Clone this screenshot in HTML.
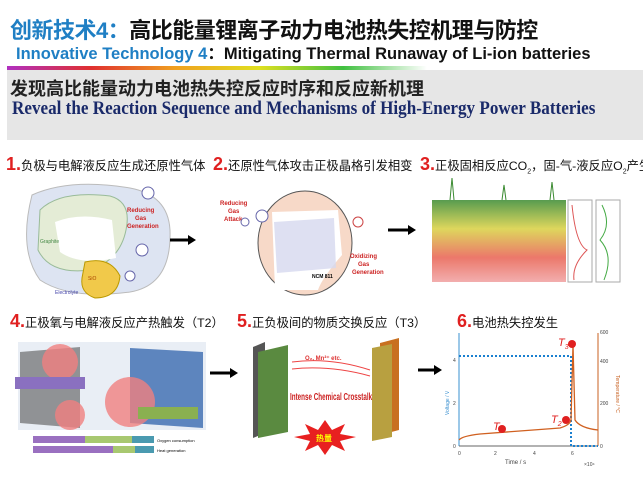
<!DOCTYPE html>
<html><head><meta charset="utf-8"><style>
body{margin:0;width:643px;height:491px;background:#fff;position:relative;overflow:hidden;font-family:"Liberation Sans","Noto Sans CJK SC",sans-serif}
.a{position:absolute;white-space:nowrap}
.h{font-size:12.3px;color:#111}
.h b{color:#e02020;font-size:18px;font-weight:bold}
</style></head><body>
<div class="a" style="left:10px;top:13px;font-size:22px;font-weight:bold;color:#111;letter-spacing:-0.5px"><span style="color:#1f7fc4">创新技术4：</span>高比能量锂离子动力电池热失控机理与防控</div>
<div class="a" style="left:16px;top:40px;font-size:16.5px;font-weight:bold;color:#111"><span style="color:#1f7fc4">Innovative Technology 4</span>：Mitigating Thermal Runaway of Li-ion batteries</div>
<div class="a" style="left:7px;top:66px;width:420px;height:4px;background:linear-gradient(90deg,#b030c0,#e03030,#f0a020,#e0e020,#40c040,#fff)"></div>
<div class="a" style="left:7px;top:70px;width:636px;height:70px;background:#e6e6e6"></div>
<div class="a" style="left:10px;top:75px;font-size:18px;font-weight:bold;color:#222">发现高比能量动力电池热失控反应时序和反应新机理</div>
<div class="a" style="left:12px;top:98px;font-size:19px;font-weight:bold;color:#1a2a6a;font-family:'Liberation Serif',serif;transform:scaleX(0.9);transform-origin:0 0">Reveal the Reaction Sequence and Mechanisms of High-Energy Power Batteries</div>

<div class="a h" style="left:6px;top:154px"><b>1.</b>负极与电解液反应生成还原性气体</div>
<div class="a h" style="left:213px;top:154px"><b>2.</b>还原性气体攻击正极晶格引发相变</div>
<div class="a h" style="left:420px;top:154px"><b>3.</b>正极固相反应CO<sub style="font-size:7px">2</sub>，固-气-液反应O<sub style="font-size:7px">2</sub>产生</div>
<div class="a h" style="left:10px;top:311px"><b>4.</b>正极氧与电解液反应产热触发（T2）</div>
<div class="a h" style="left:237px;top:311px"><b>5.</b>正负极间的物质交换反应（T3）</div>
<div class="a h" style="left:457px;top:311px"><b>6.</b>电池热失控发生</div>

<svg class="a" style="left:0;top:0" width="643" height="491" font-family="Liberation Sans,sans-serif">
<!-- panel 1 -->
<path d="M32 195 Q70 178 130 188 Q168 195 170 230 Q172 285 130 292 Q70 300 40 280 Q18 250 32 195Z" fill="#dde4f2" stroke="#bbb"/>
<path d="M40 210 Q60 190 110 196 Q132 202 126 230 Q120 260 90 270 Q50 275 38 250Z" fill="#e4ecd6" stroke="#9b9"/>
<path d="M55 222 Q80 212 112 220 L116 258 Q80 266 60 252Z" fill="#fff"/>
<path d="M85 262 Q110 256 120 276 Q118 298 95 298 Q80 293 82 278Z" fill="#f1c94a" stroke="#b90"/>
<text x="40" y="243" font-size="5" fill="#484">Graphite</text><text x="88" y="280" font-size="5" fill="#a40">SiO</text><text x="55" y="294" font-size="5" fill="#44a">Electrolyte</text>
<text x="127" y="212" font-size="6" font-weight="bold" fill="#c22">Reducing</text><text x="135" y="220" font-size="6" font-weight="bold" fill="#c22">Gas</text><text x="127" y="228" font-size="6" font-weight="bold" fill="#c22">Generation</text>
<circle cx="148" cy="193" r="6" fill="#fff" stroke="#66a"/><circle cx="142" cy="250" r="6" fill="#fff" stroke="#66a"/><circle cx="130" cy="276" r="5" fill="#fff" stroke="#66a"/>
<path d="M170 240 H190" stroke="#000" stroke-width="3"/><path d="M188 235 L196 240 L188 245Z"/>
<!-- panel 2 -->
<ellipse cx="305" cy="243" rx="47" ry="52" fill="#f7d9c8" stroke="#555"/>
<path d="M272 212 L338 210 L342 255 Q322 278 318 290 L275 290 Z" fill="#fff"/>
<path d="M274 222 L334 218 L336 268 L277 273Z" fill="#d6d8ef" opacity="0.8"/>
<text x="312" y="278" font-size="5" font-weight="bold">NCM 811</text>
<text x="220" y="205" font-size="6" font-weight="bold" fill="#c22">Reducing</text><text x="228" y="213" font-size="6" font-weight="bold" fill="#c22">Gas</text><text x="224" y="221" font-size="6" font-weight="bold" fill="#c22">Attack</text>
<text x="350" y="258" font-size="6" font-weight="bold" fill="#c22">Oxidizing</text><text x="358" y="266" font-size="6" font-weight="bold" fill="#c22">Gas</text><text x="352" y="274" font-size="6" font-weight="bold" fill="#c22">Generation</text>
<circle cx="262" cy="216" r="6" fill="#fff" stroke="#66a"/><circle cx="245" cy="222" r="4" fill="#fff" stroke="#66a"/><circle cx="358" cy="222" r="5" fill="#fff" stroke="#c44"/>
<path d="M388 230 H410" stroke="#000" stroke-width="3"/><path d="M408 225 L416 230 L408 235Z"/>
<!-- panel 3 -->
<defs><linearGradient id="g3" x1="0" y1="0" x2="0" y2="1"><stop offset="0" stop-color="#3a8a30"/><stop offset=".35" stop-color="#d8d040"/><stop offset=".7" stop-color="#e86050"/><stop offset="1" stop-color="#f0a0a0"/></linearGradient></defs>
<rect x="432" y="200" width="134" height="82" fill="url(#g3)" opacity=".85"/>
<rect x="568" y="200" width="24" height="82" fill="#fff" stroke="#aaa"/><rect x="596" y="200" width="24" height="82" fill="#fff" stroke="#aaa"/>
<path d="M572 205 Q576 245 587 250 Q572 265 574 280" stroke="#d55" fill="none"/><path d="M602 205 Q612 225 600 240 Q614 255 604 280" stroke="#4a4" fill="none"/>
<path d="M450 200 L452 178 L454 200 M502 200 L504 185 L506 200 M550 200 L552 182 L554 200" stroke="#3a8a30" fill="none"/>
<!-- panel 4 -->
<rect x="18" y="342" width="188" height="88" fill="#e9eef5"/>
<path d="M130 348 L203 352 L203 428 L130 423Z" fill="#3a6ab0" opacity=".8"/>
<path d="M20 352 L80 347 L80 428 L20 423Z" fill="#555" opacity=".6"/>
<circle cx="60" cy="362" r="18" fill="#f08080" opacity=".8"/><circle cx="70" cy="415" r="15" fill="#f08080" opacity=".8"/><circle cx="130" cy="402" r="25" fill="#f08080" opacity=".8"/>
<rect x="15" y="377" width="70" height="12" fill="#8a70c0"/><rect x="138" y="407" width="60" height="12" fill="#8ab050"/>
<rect x="33" y="436" width="52" height="7" fill="#9a70c0"/><rect x="85" y="436" width="47" height="7" fill="#a8c870"/><rect x="132" y="436" width="22" height="7" fill="#4a9ab0"/>
<rect x="33" y="446" width="80" height="7" fill="#9a70c0"/><rect x="113" y="446" width="22" height="7" fill="#a8c870"/><rect x="135" y="446" width="19" height="7" fill="#4a9ab0"/>
<text x="157" y="442" font-size="4">Oxygen consumption</text><text x="157" y="452" font-size="4">Heat generation</text>
<path d="M210 373 H232" stroke="#000" stroke-width="3"/><path d="M230 368 L238 373 L230 378Z"/>
<!-- panel 5 -->
<path d="M253 347 L265 342 L265 433 L253 438Z" fill="#555"/><path d="M258 352 L288 345 L288 432 L258 438Z" fill="#5a8a40"/>
<path d="M380 343 L399 338 L399 430 L380 435Z" fill="#c87020"/><path d="M372 348 L392 344 L392 437 L372 441Z" fill="#b8a040"/>
<path d="M292 362 Q330 357 370 370 M292 369 Q330 365 370 376" stroke="#e44" fill="none"/>
<text x="305" y="360" font-size="6" font-weight="bold" fill="#d33">O₂, Mn²⁺ etc.</text>
<text x="290" y="400" font-size="9" font-weight="bold" fill="#c22" transform="translate(290 400) scale(.7 1.1) translate(-290 -400)">Intense Chemical Crosstalk</text>
<polygon points="325,420 332,430 345,424 340,434 356,437 340,441 345,451 332,445 325,455 318,445 305,451 310,441 294,437 310,434 305,424 318,430" fill="#e82020"/>
<text x="316" y="441" font-size="8" font-weight="bold" fill="#ff0" font-family="Noto Sans CJK SC,sans-serif">热量</text>
<path d="M418 370 H436" stroke="#000" stroke-width="3"/><path d="M434 365 L442 370 L434 375Z"/>
<!-- panel 6 -->
<line x1="459" y1="333" x2="459" y2="446" stroke="#3a90d0"/><line x1="598" y1="333" x2="598" y2="446" stroke="#c86020"/><line x1="459" y1="446" x2="598" y2="446" stroke="#666"/>
<path d="M459 356 H571 V446 H598" stroke="#1a80d0" stroke-width="2" stroke-dasharray="2 2" fill="none"/>
<path d="M459 440 Q462 436 480 434 L560 428 Q570 425 571 420 L573 345 L575 420 Q580 428 598 430" stroke="#d06020" stroke-width="1.3" fill="none"/>
<circle cx="572" cy="344" r="4" fill="#e02020"/><circle cx="566" cy="420" r="4" fill="#e02020"/><circle cx="502" cy="429" r="4" fill="#e02020"/>
<text x="558" y="346" font-size="11" font-style="italic" fill="#e02020">T<tspan font-size="7" dy="3">3</tspan></text>
<text x="551" y="423" font-size="11" font-style="italic" fill="#e02020">T<tspan font-size="7" dy="3">2</tspan></text>
<text x="493" y="430" font-size="11" font-style="italic" fill="#e02020">T</text>
<g font-size="5" fill="#444"><text x="458" y="455">0</text><text x="494" y="455">2</text><text x="533" y="455">4</text><text x="571" y="455">6</text><text x="505" y="464" font-size="6">Time / s</text><text x="584" y="466">×10⁴</text>
<text x="453" y="448">0</text><text x="453" y="405">2</text><text x="453" y="362">4</text>
<text x="600" y="448">0</text><text x="600" y="405">200</text><text x="600" y="363">400</text><text x="600" y="334">600</text></g>
<text x="449" y="415" font-size="5" fill="#3a90d0" transform="rotate(-90 449 415)">Voltage / V</text>
<text x="616" y="375" font-size="5" fill="#c86020" transform="rotate(90 616 375)">Temperature / °C</text>
</svg>
</body></html>
